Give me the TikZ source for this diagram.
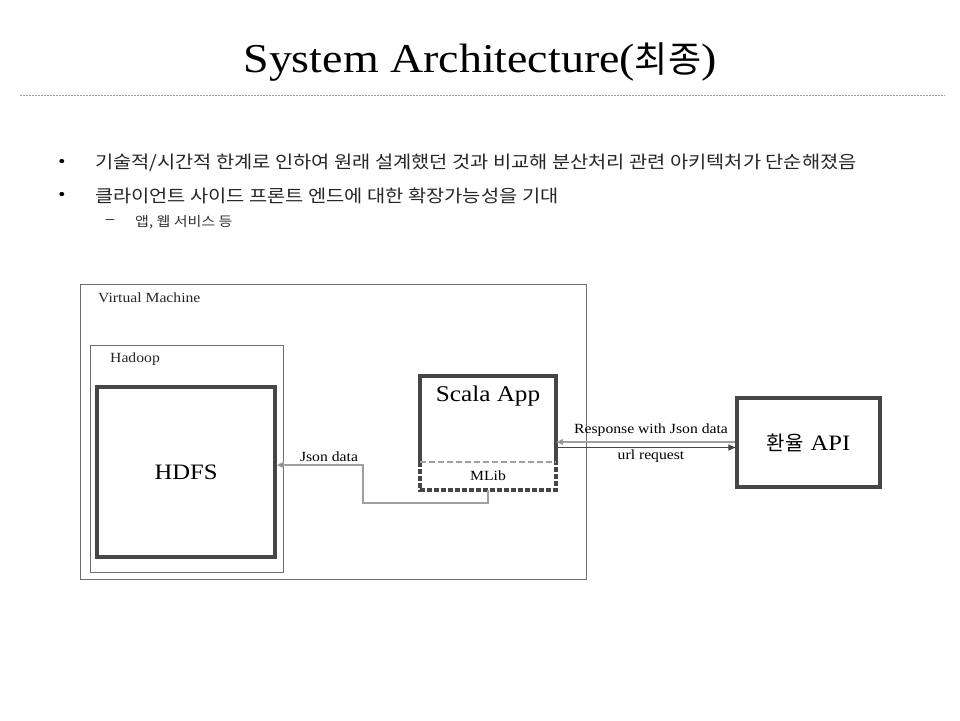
\documentclass[tikz,border=0pt]{standalone}
\usepackage{fontspec}
\setmainfont[FakeStretch=1.12]{Liberation Serif}
\newfontfamily\kr{Noto Sans CJK KR}
\newfontfamily\krw[FakeStretch=1.13]{Noto Sans CJK KR}
\usetikzlibrary{arrows.meta}
\definecolor{boxgray}{RGB}{70,70,70}
\definecolor{thingray}{RGB}{110,110,110}
\definecolor{lightgray2}{RGB}{160,160,160}
\tikzset{
  thinbox/.style={draw=thingray, line width=1pt},
  thickbox/.style={draw=boxgray, line width=3.2pt},
  lbl/.style={inner sep=0pt, anchor=west, font=\fontsize{14}{16}\selectfont, text=black!85},
  conn/.style={draw=lightgray2, line width=1.3pt},
}
\begin{document}
\begin{tikzpicture}[x=1pt,y=-1pt]
\useasboundingbox (0,0) rectangle (960,720);
% title
\node (title) at (480,62) {\fontsize{41}{46}\selectfont System Architecture({\kr\fontsize{36}{40}\selectfont 최종})};
\draw[lightgray2, line width=0.6pt, dash pattern=on 2pt off 1pt] (20,95) -- (945,95);
% bullets
\node (b1) at (62,163) {\fontsize{18}{20}\selectfont •};
\node[anchor=west, inner sep=0pt, text=black!85] (t1) at (95,163) {\krw\fontsize{17.5}{20}\selectfont 기술적/시간적 한계로 인하여 원래 설계했던 것과 비교해 분산처리 관련 아키텍처가 단순해졌음};
\node (b2) at (62,196) {\fontsize{18}{20}\selectfont •};
\node[anchor=west, inner sep=0pt, text=black!85] (t2) at (95,196) {\krw\fontsize{17.5}{20}\selectfont 클라이언트 사이드 프론트 엔드에 대한 확장가능성을 기대};
\node (b3) at (110,222) {\fontsize{15}{17}\selectfont –};
\node[anchor=west, inner sep=0pt, text=black!80] (t3) at (135,222) {\krw\fontsize{13.3}{15}\selectfont 앱, 웹 서비스 등};
% boxes
\draw[thinbox] (80,284) rectangle (586,579);
\node[lbl] (vm) at (98,298) {Virtual Machine};
\draw[thinbox] (90,345) rectangle (283,572);
\node[lbl] (hd) at (110,359) {Hadoop};
\node[thickbox, minimum width=178pt, minimum height=170pt, inner sep=0pt, font=\fontsize{22}{26}\selectfont] (hdfs) at (186,472) {HDFS};
% scala app
\node[inner sep=0pt, minimum width=136pt, minimum height=114pt] (scala) at (488,433) {};
\draw[boxgray, line width=3.2pt] (420,462) -- (420,376) -- (556,376) -- (556,462);
\draw[boxgray, line width=3.2pt, dash pattern=on 5pt off 2pt] (420,462) -- (420,490) -- (556,490) -- (556,462);
\draw[lightgray2, line width=1.8pt, dash pattern=on 6pt off 3pt] (420,462) -- (556,462);
\node[font=\fontsize{22.5}{26}\selectfont] (scalat) at (488,396) {Scala App};
\node[font=\fontsize{14}{16}\selectfont, inner sep=0pt, minimum width=136pt, minimum height=28pt] (mlib) at (488,476) {MLib};
% api
\node[thickbox, minimum width=143pt, minimum height=89pt, inner sep=0pt] (api) at (808.5,442.5) {{\kr\fontsize{20}{24}\selectfont 환율}\hspace{7pt}{\fontsize{22}{26}\selectfont API}};
% connectors
\coordinate (c1) at (488,503);
\coordinate (c2) at (363,503);
\coordinate (c3) at (363,465);
\draw[conn, -{Triangle[length=7pt,width=6pt,fill=thingray]}] (mlib.south) -- (c1) -- (c2) -- (c3) -- (hdfs.east |- c3);
\node[font=\fontsize{14}{16}\selectfont, anchor=south, inner sep=1pt] (jd) at (329,463) {Json data};
\draw[draw=lightgray2, line width=1.5pt, -{Triangle[length=7pt,width=6pt,fill=thingray]}] (api.west |- 0,442) -- (scala.east |- 0,442);
\draw[draw=boxgray, line width=1.1pt, -{Triangle[length=7pt,width=6pt]}] (scala.east |- 0,447.5) -- (api.west |- 0,447.5);
\node[font=\fontsize{14}{16}\selectfont] (resp) at (651,430) {Response with Json data};
\node[font=\fontsize{14}{16}\selectfont] (url) at (651,456) {url request};
\end{tikzpicture}
\end{document}
